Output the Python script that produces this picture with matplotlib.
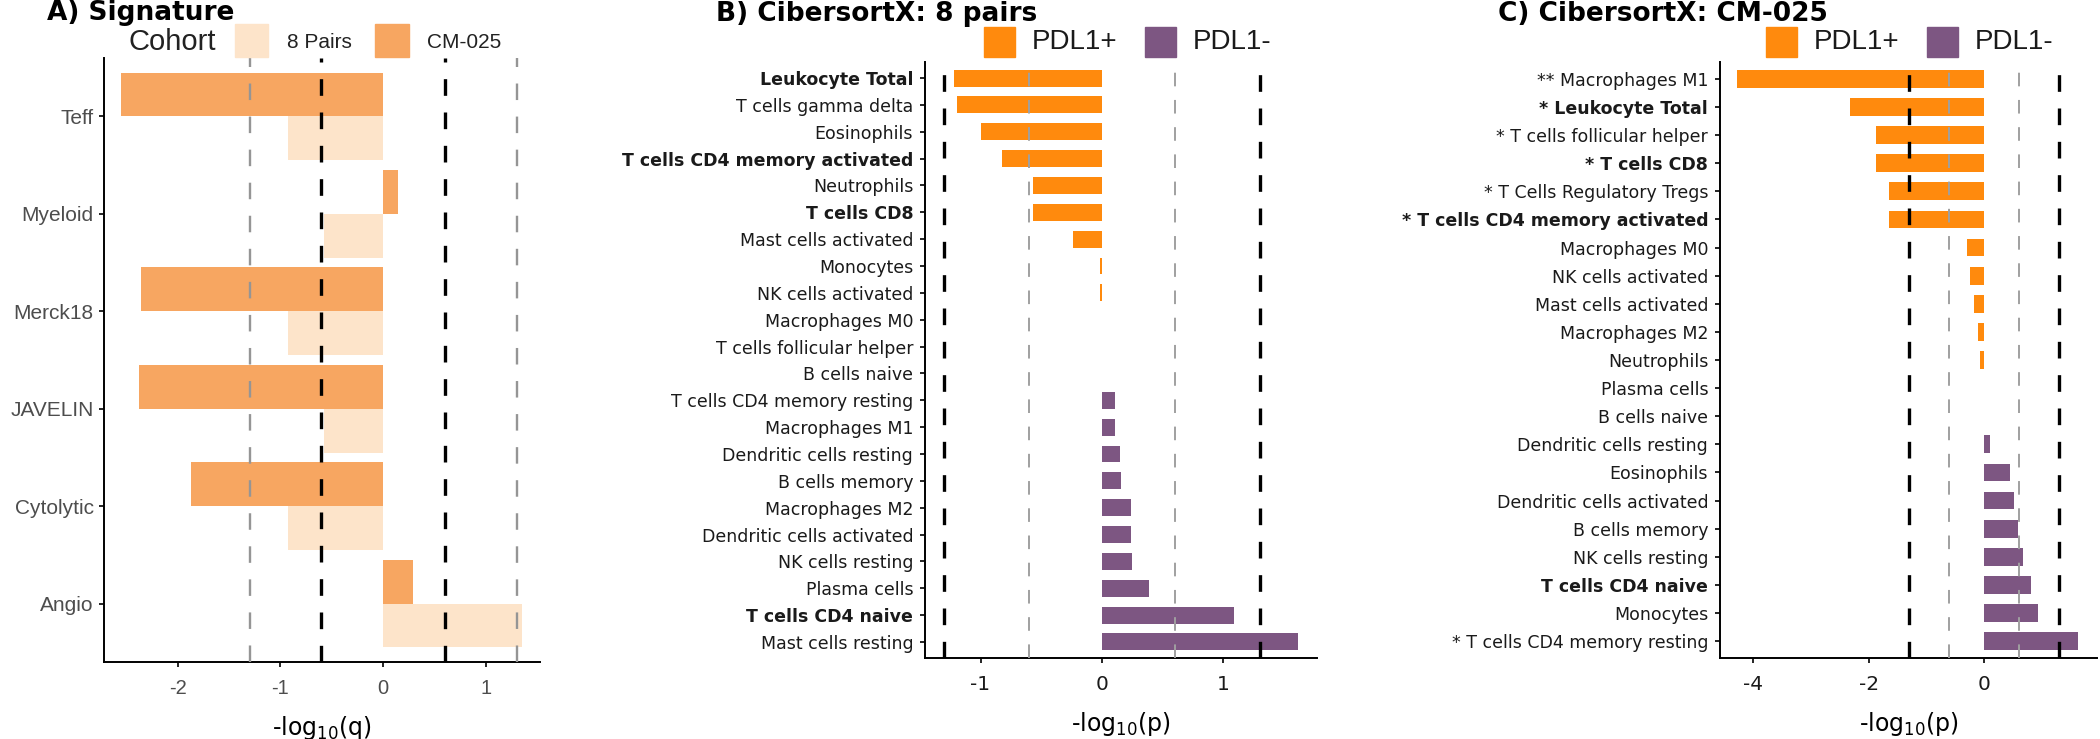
import numpy as np
import matplotlib
matplotlib.use("Agg")
import matplotlib.pyplot as plt
from matplotlib.patches import Rectangle

plt.rcParams['axes.unicode_minus'] = False

# ---- data ----
sig_names = ['Teff', 'Myeloid', 'Merck18', 'JAVELIN', 'Cytolytic', 'Angio']
sig_8pairs = [-0.93, -0.58, -0.93, -0.58, -0.93, 1.35]
sig_cm025 = [-2.55, 0.15, -2.36, -2.38, -1.87, 0.29]

b_names = ['Leukocyte Total', 'T cells gamma delta', 'Eosinophils',
           'T cells CD4 memory activated', 'Neutrophils', 'T cells CD8',
           'Mast cells activated', 'Monocytes', 'NK cells activated',
           'Macrophages M0', 'T cells follicular helper', 'B cells naive',
           'T cells CD4 memory resting', 'Macrophages M1', 'Dendritic cells resting',
           'B cells memory', 'Macrophages M2', 'Dendritic cells activated',
           'NK cells resting', 'Plasma cells', 'T cells CD4 naive', 'Mast cells resting']
b_vals = [-1.22, -1.19, -1.00, -0.82, -0.57, -0.57, -0.24, -0.015, -0.015,
          0, 0, 0, 0.11, 0.11, 0.15, 0.16, 0.24, 0.24, 0.25, 0.39, 1.09, 1.61]
b_bold = ['Leukocyte Total', 'T cells CD4 memory activated', 'T cells CD8', 'T cells CD4 naive']

c_names = ['** Macrophages M1', '* Leukocyte Total', '* T cells follicular helper',
           '* T cells CD8', '* T Cells Regulatory Tregs', '* T cells CD4 memory activated',
           'Macrophages M0', 'NK cells activated', 'Mast cells activated', 'Macrophages M2',
           'Neutrophils', 'Plasma cells', 'B cells naive', 'Dendritic cells resting',
           'Eosinophils', 'Dendritic cells activated', 'B cells memory', 'NK cells resting',
           'T cells CD4 naive', 'Monocytes', '* T cells CD4 memory resting']
c_vals = [-4.27, -2.32, -1.87, -1.87, -1.65, -1.65, -0.30, -0.24, -0.17, -0.10,
          -0.07, 0, 0, 0.10, 0.45, 0.52, 0.59, 0.67, 0.80, 0.93, 1.63]
c_bold = ['* Leukocyte Total', '* T cells CD8', '* T cells CD4 memory activated', 'T cells CD4 naive']

# colours
LIGHT = '#FDE4CA'
MID = '#F7A661'
ORANGE = '#FF8A0D'
PURPLE = '#7D5682'

W, H = 2100, 739
fig = plt.figure(figsize=(W / 100, H / 100), dpi=100)


def box(x0, x1, y0, y1):
    return [x0 / W, 1 - y1 / H, (x1 - x0) / W, (y1 - y0) / H]


def style_axes(ax, lab_color, fam):
    for s in ['top', 'right']:
        ax.spines[s].set_visible(False)
    for s in ['left', 'bottom']:
        ax.spines[s].set_linewidth(1.4)
    ax.tick_params(axis='both', direction='out', length=3.5, width=1.2)
    ax.tick_params(axis='x', labelsize=14.5, pad=8.5, labelcolor=lab_color)
    for t in ax.get_xticklabels():
        t.set_family(fam)


def vlines(ax, black_x, gray_x, gray_col, gray_lw):
    for x in gray_x:
        ax.axvline(x, color=gray_col, lw=gray_lw, ls=(0, (7, 7)), zorder=5)
    for x in black_x:
        ax.axvline(x, color='black', lw=2.4, ls=(0, (5, 5)), zorder=6)


# ---- Panel A ----
axA = fig.add_axes(box(104, 540, 58, 662))
pos = np.arange(len(sig_names))
axA.barh(pos - 0.225, sig_cm025, height=0.45, color=MID, zorder=2)
axA.barh(pos + 0.225, sig_8pairs, height=0.45, color=LIGHT, zorder=2)
vlines(axA, [-0.602, 0.602], [-1.301, 1.301], '#959595', 1.7)
axA.set_xlim(-2.72, 1.53)
axA.set_ylim(len(sig_names) - 0.4, -0.6)
axA.set_yticks(pos)
axA.set_yticklabels(sig_names, family='Liberation Sans', fontsize=15, color='#4D4D4D')
axA.set_xticks([-2, -1, 0, 1])
style_axes(axA, '#4D4D4D', 'Liberation Sans')
axA.tick_params(axis='y', pad=4)
axA.set_xlabel(r'-log$_{10}$(q)', fontsize=17, labelpad=12)

fig.text(47 / W, 1 - 13 / H, 'A) Signature', fontsize=19, fontweight='bold', va='center', ha='left')
fig.text(128 / W, 1 - 42 / H, 'Cohort', fontsize=21, family='Liberation Sans', color='#222222', va='center')
fig.add_artist(Rectangle((235 / W, 1 - 57 / H), 33 / W, 33 / H, transform=fig.transFigure, color=LIGHT))
fig.text(287 / W, 1 - 42 / H, '8 Pairs', fontsize=15, family='Liberation Sans', color='#222222', va='center')
fig.add_artist(Rectangle((375 / W, 1 - 57 / H), 34 / W, 33 / H, transform=fig.transFigure, color=MID))
fig.text(427 / W, 1 - 42 / H, 'CM-025', fontsize=15, family='Liberation Sans', color='#222222', va='center')


# ---- Panels B and C ----
def cib_panel(rect, names, vals, bold, xlim, xticks, title, title_x, leg_x):
    ax = fig.add_axes(rect)
    vals = np.array(vals)
    y = np.arange(len(names))
    cols = [ORANGE if v < 0 else PURPLE for v in vals]
    ax.barh(y, vals, height=0.63, color=cols, zorder=2)
    vlines(ax, [-1.301, 1.301], [-0.602, 0.602], '#A0A0A0', 1.4)
    ax.set_xlim(*xlim)
    ax.set_ylim(len(names) - 0.4, -0.6)
    ax.set_yticks(y)
    ax.set_yticklabels(names, fontsize=12.5, color='#1A1A1A')
    for t in ax.get_yticklabels():
        if t.get_text() in bold:
            t.set_fontweight('bold')
    ax.set_xticks(xticks)
    style_axes(ax, '#1A1A1A', 'DejaVu Sans')
    ax.tick_params(axis='y', pad=5)
    ax.set_xlabel(r'-log$_{10}$(p)', fontsize=17, labelpad=12)
    fig.text(title_x / W, 1 - 14 / H, title, fontsize=19, fontweight='bold', va='center')
    fig.add_artist(Rectangle((leg_x / W, 1 - 57 / H), 31 / W, 30 / H, transform=fig.transFigure, color=ORANGE))
    fig.text((leg_x + 48) / W, 1 - 42 / H, 'PDL1+', fontsize=20, family='Liberation Sans', color='#1A1A1A', va='center')
    fig.add_artist(Rectangle(((leg_x + 161) / W, 1 - 57 / H), 31 / W, 30 / H, transform=fig.transFigure, color=PURPLE))
    fig.text((leg_x + 209) / W, 1 - 42 / H, 'PDL1-', fontsize=20, family='Liberation Sans', color='#1A1A1A', va='center')
    return ax


cib_panel(box(925, 1317, 62, 658), b_names, b_vals, b_bold, (-1.457, 1.77), [-1, 0, 1],
          'B) CibersortX: 8 pairs', 716, 984)
cib_panel(box(1720, 2097, 62, 658), c_names, c_vals, c_bold, (-4.57, 1.95), [-4, -2, 0],
          'C) CibersortX: CM-025', 1498, 1766)

fig.savefig('out.png', dpi=100, facecolor='white')
